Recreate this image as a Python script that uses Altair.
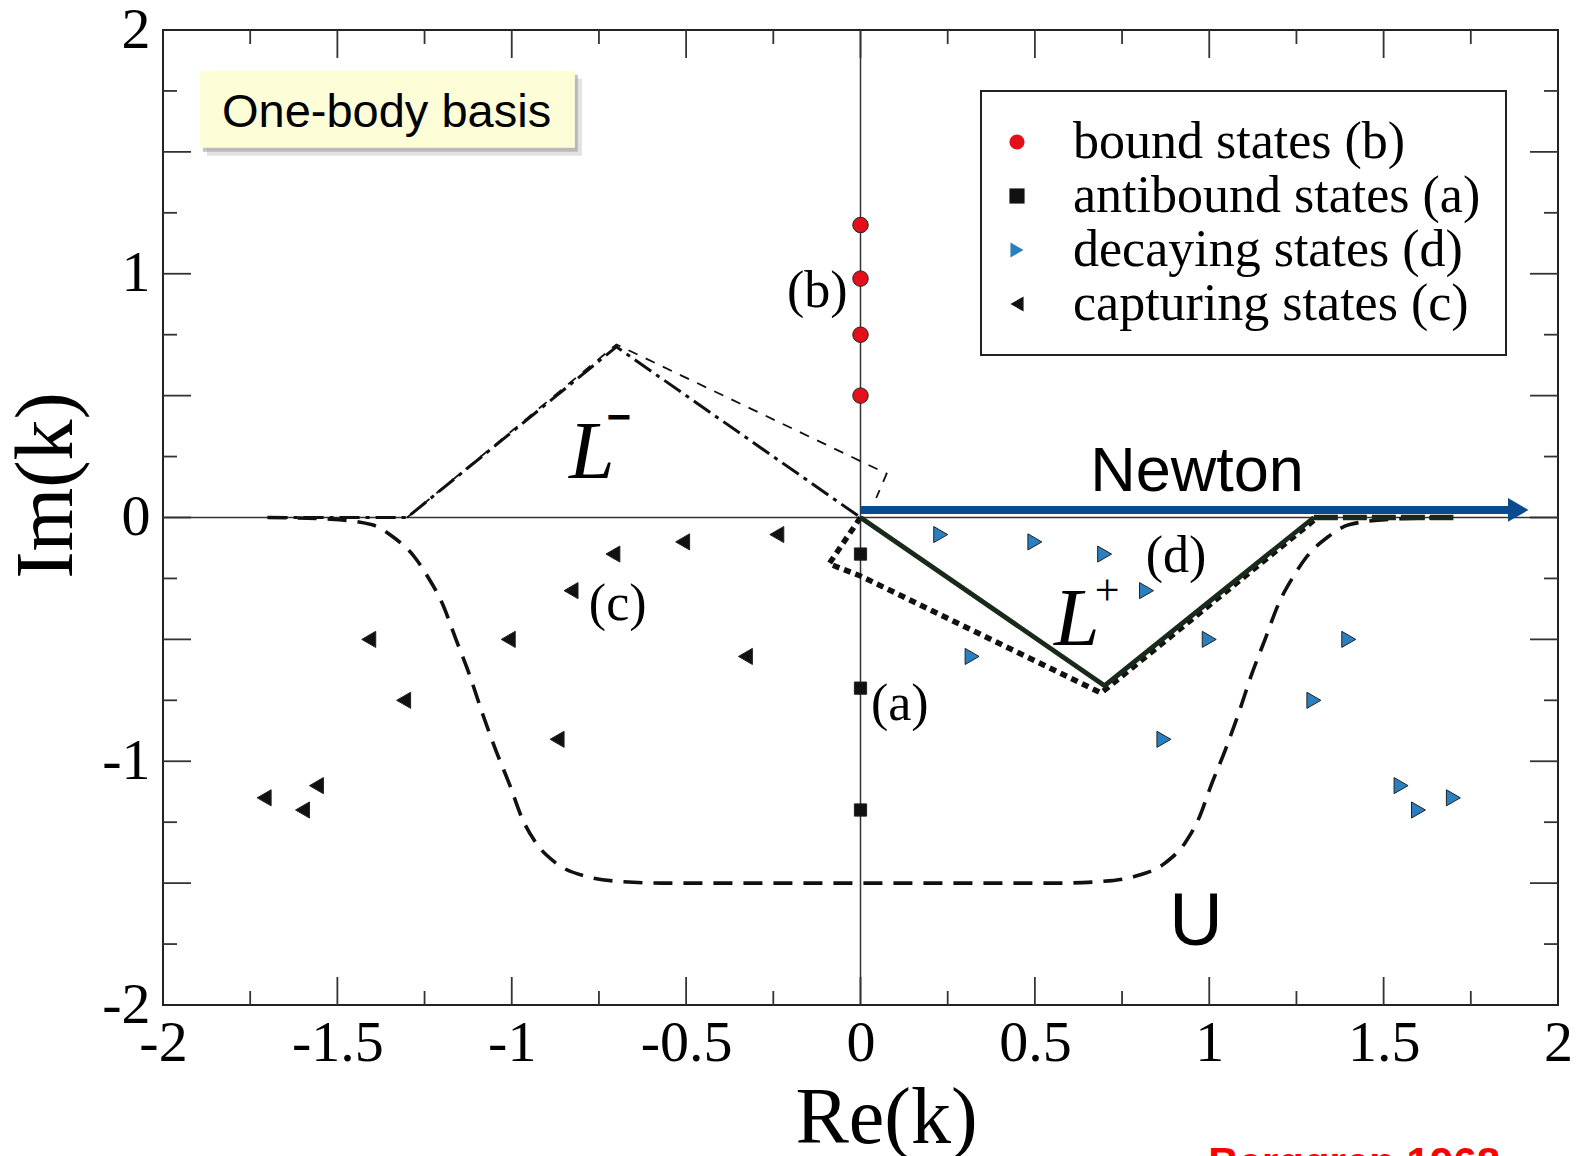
import altair as alt
import pandas as pd

SERIF = "Liberation Serif"
SANS = "Liberation Sans"

# ---------------- data ----------------
bound_x = [0.0, 0.0, 0.0, 0.0]
bound_y = [1.20, 0.98, 0.75, 0.50]
antibound_x = [0.0, 0.0, 0.0]
antibound_y = [-0.15, -0.70, -1.20]
decay_x = [0.23, 0.50, 0.70, 0.82, 0.32, 1.00, 1.40, 0.87, 1.30, 1.55, 1.60, 1.70]
decay_y = [-0.07, -0.10, -0.15, -0.30, -0.57, -0.50, -0.50, -0.91, -0.75, -1.10, -1.20, -1.15]
capture_x = [-0.24, -0.51, -0.71, -0.83, -0.33, -1.01, -1.41, -0.87, -1.31, -1.56, -1.60, -1.71]
capture_y = [-0.07, -0.10, -0.15, -0.30, -0.57, -0.50, -0.50, -0.91, -0.75, -1.10, -1.20, -1.15]

series_names = ["bound states (b)", "antibound states (a)",
                "decaying states (d)", "capturing states (c)"]
series_fill = ["#e3101c", "#111111", "#2a7fc0", "#111111"]
series_shape = ["circle", "square", "triangle-right", "triangle-left"]
series_size = [240, 150, 260, 260]

# contour U (dashed)
U_x = [-1.70, -1.52, -1.40, -1.34, -1.28, -1.24, -1.20, -1.16, -1.12, -1.085, -1.047,
       -1.005, -0.97, -0.93, -0.873, -0.785, -0.683, -0.566, 0.0, 0.566, 0.683, 0.785,
       0.873, 0.93, 0.97, 1.005, 1.047, 1.085, 1.12, 1.16, 1.20, 1.24, 1.28, 1.34, 1.40,
       1.52, 1.70]
U_y = [0.0, -0.007, -0.03, -0.08, -0.16, -0.245, -0.35, -0.50, -0.65, -0.80, -0.95,
       -1.10, -1.235, -1.336, -1.418, -1.473, -1.494, -1.50, -1.50, -1.50, -1.494, -1.473,
       -1.418, -1.336, -1.235, -1.10, -0.95, -0.80, -0.65, -0.50, -0.35, -0.245, -0.16,
       -0.08, -0.03, -0.007, 0.0]
# contour L- (dash-dot)
Lminus_x = [-1.70, -1.30, -0.70, 0.0]
Lminus_y = [0.0, 0.0, 0.70, 0.0]
# thin dashed contour
thin_x = [-1.30, -0.70, 0.075, 0.045]
thin_y = [0.0, 0.71, 0.18, 0.08]
# dotted contour
dotted_x = [0.0, -0.09, 0.0, 0.69, 1.31]
dotted_y = [0.0, -0.19, -0.24, -0.72, 0.0]
# contour L+ (solid) and its tail
Lplus_x = [0.0, 0.70, 1.30]
Lplus_y = [0.0, -0.69, 0.0]
tail_x = [1.30, 1.70]
tail_y = [0.0, 0.0]
# Newton arrow
newton_x = [0.0]
newton_x2 = [1.857]
newton_y = [0.031]
newton_head_x = [1.886]

# ticks
x_label_values = [-2, -1.5, -1, -0.5, 0, 0.5, 1, 1.5, 2]
y_label_values = [-2, -1, 0, 1, 2]
major_ticks = [-1.5, -1, -0.5, 0, 0.5, 1, 1.5]
minor_ticks = [-1.75, -1.25, -0.75, -0.25, 0.25, 0.75, 1.25, 1.75]

# annotations
state_tags = ["(b)", "(c)", "(a)", "(d)"]
state_tag_x = [-0.211, -0.779, 0.030, 0.818]
state_tag_y = [0.864, -0.420, -0.830, -0.222]

W, H = 1395, 975
MAJ, MIN = 28, 14

xs = alt.Scale(domain=[-2, 2], nice=False, zero=False)
ys = alt.Scale(domain=[-2, 2], nice=False, zero=False)

x_axis = alt.Axis(values=x_label_values, ticks=False, domain=False, grid=False,
                  labelFont=SERIF, labelFontSize=58, labelColor="black",
                  labelPadding=9, labelFlush=False, labelOverlap=False,
                  labelExpr="datum.value + ''",
                  title="Re(k)", titleFont=SERIF, titleFontSize=80,
                  titleFontWeight="normal", titleColor="black",
                  titleX=723, titleY=137, titleAlign="center",
                  titleBaseline="alphabetic")
y_axis = alt.Axis(values=y_label_values, ticks=False, domain=False, grid=False,
                  labelFont=SERIF, labelFontSize=58, labelColor="black",
                  labelPadding=13, labelFlush=False, labelOverlap=False,
                  labelBaseline="middle",
                  labelExpr="datum.value + ''",
                  title="Im(k)", titleFont=SERIF, titleFontSize=82,
                  titleFontWeight="normal", titleColor="black",
                  titleX=-92, titleY=455, titleAngle=-90, titleAlign="center",
                  titleBaseline="alphabetic")


def X(f):
    return alt.X(f, type="quantitative", scale=xs, axis=x_axis, title="Re(k)")


def Y(f):
    return alt.Y(f, type="quantitative", scale=ys, axis=y_axis, title="Im(k)")


def path_df(xv, yv):
    return pd.DataFrame({"x": xv, "y": yv, "i": list(range(len(xv)))})


def line_layer(xv, yv, **kw):
    return alt.Chart(path_df(xv, yv)).mark_line(**kw).encode(
        x=X("x"), y=Y("y"), order=alt.Order("i:Q"))


layers = []

# zero lines
layers.append(alt.Chart(pd.DataFrame({"v": [0.0]})).mark_rule(
    color="#333", strokeWidth=1.5).encode(x=X("v")))
layers.append(alt.Chart(pd.DataFrame({"v": [0.0]})).mark_rule(
    color="#333", strokeWidth=1.5).encode(y=Y("v")))

# inner ticks on all four sides
tick_style = dict(color="#333", strokeWidth=1.8)
for vals, ln in ((major_ticks, MAJ), (minor_ticks, MIN)):
    tdf = pd.DataFrame({"v": vals})
    layers.append(alt.Chart(tdf).mark_rule(**tick_style).encode(
        x=X("v"), y=alt.value(H), y2=alt.value(H - ln)))
    layers.append(alt.Chart(tdf).mark_rule(**tick_style).encode(
        x=X("v"), y=alt.value(0), y2=alt.value(ln)))
    layers.append(alt.Chart(tdf).mark_rule(**tick_style).encode(
        y=Y("v"), x=alt.value(0), x2=alt.value(ln)))
    layers.append(alt.Chart(tdf).mark_rule(**tick_style).encode(
        y=Y("v"), x=alt.value(W), x2=alt.value(W - ln)))

# contours
layers.append(line_layer(U_x, U_y, color="#111", strokeWidth=3.6,
                         strokeDash=[19, 11], interpolate="monotone"))
layers.append(line_layer(Lminus_x, Lminus_y, color="#111", strokeWidth=3,
                         strokeDash=[20, 6, 4, 6]))
layers.append(line_layer(thin_x, thin_y, color="#111", strokeWidth=1.8,
                         strokeDash=[10, 9]))
layers.append(line_layer(dotted_x, dotted_y, color="#111", strokeWidth=5.5,
                         strokeDash=[7, 5]))
layers.append(line_layer(Lplus_x, Lplus_y, color="#1a2a1a", strokeWidth=4.8))
layers.append(line_layer(tail_x, tail_y, color="#1a2a1a", strokeWidth=5.5,
                         strokeDash=[24, 5]))

# Newton arrow
arrow_color = "#0a4a8e"
layers.append(alt.Chart(pd.DataFrame({"x": newton_x, "x2": newton_x2, "y": newton_y}))
              .mark_rule(color=arrow_color, strokeWidth=8)
              .encode(x=X("x"), x2=alt.X2("x2"), y=Y("y")))
layers.append(alt.Chart(pd.DataFrame({"x": newton_head_x, "y": newton_y}))
              .mark_point(shape="triangle-right", filled=True, size=560,
                          color=arrow_color, opacity=1)
              .encode(x=X("x"), y=Y("y")))

# states: one layer per series (own marker size), one shared legend
legend = alt.Legend(title=None, orient="none", legendX=818, legendY=61,
                    direction="vertical",
                    labelFont=SERIF, labelFontSize=52, labelColor="black",
                    labelLimit=700, labelOffset=30, symbolOffset=-15,
                    symbolSize=230, symbolStrokeColor="#222", symbolStrokeWidth=1,
                    padding=25, rowPadding=2,
                    strokeColor="#222", fillColor="white", zindex=1)

series_xy = [(bound_x, bound_y), (antibound_x, antibound_y),
             (decay_x, decay_y), (capture_x, capture_y)]
for name, (sx, sy), sz in zip(series_names, series_xy, series_size):
    sdf = pd.DataFrame({"x": sx, "y": sy, "s": name})
    layers.append(alt.Chart(sdf).mark_point(filled=True, opacity=1, stroke="#222",
                                            strokeWidth=1, size=sz).encode(
        x=X("x"), y=Y("y"),
        fill=alt.Fill("s:N", scale=alt.Scale(domain=series_names, range=series_fill),
                      legend=legend),
        shape=alt.Shape("s:N", scale=alt.Scale(domain=series_names, range=series_shape),
                        legend=legend),
    ))

# state tags
layers.append(alt.Chart(pd.DataFrame({"x": state_tag_x, "y": state_tag_y, "t": state_tags}))
              .mark_text(font=SERIF, fontSize=52, align="left", baseline="alphabetic",
                         color="black")
              .encode(x=X("x"), y=Y("y"), text="t:N"))

# L- / L+ labels
layers.append(alt.Chart(pd.DataFrame({"x": [-0.836, 0.555], "y": [0.1625, -0.523],
                                      "t": ["L", "L"]}))
              .mark_text(font=SERIF, fontSize=82, fontStyle="italic", align="left",
                         baseline="alphabetic", color="black")
              .encode(x=X("x"), y=Y("y"), text="t:N"))
layers.append(alt.Chart(pd.DataFrame({"x": [-0.693], "y": [0.408], "t": ["\u2212"]}))
              .mark_text(font=SANS, fontSize=42, fontWeight="bold", align="center",
                         baseline="middle", color="black")
              .encode(x=X("x"), y=Y("y"), text="t:N"))
layers.append(alt.Chart(pd.DataFrame({"x": [0.707], "y": [-0.306], "t": ["+"]}))
              .mark_text(font=SERIF, fontSize=44, align="center",
                         baseline="middle", color="black")
              .encode(x=X("x"), y=Y("y"), text="t:N"))

# Newton / U
layers.append(alt.Chart(pd.DataFrame({"x": [0.965], "y": [0.110], "t": ["Newton"]}))
              .mark_text(font=SANS, fontSize=63, align="center", baseline="alphabetic",
                         color="black")
              .encode(x=X("x"), y=Y("y"), text="t:N"))
layers.append(alt.Chart(pd.DataFrame({"x": [0.962], "y": [-1.754], "t": ["U"]}))
              .mark_text(font=SANS, fontSize=74, align="center", baseline="alphabetic",
                         color="black")
              .encode(x=X("x"), y=Y("y"), text="t:N"))

# "One-body basis" box with shadow
box = pd.DataFrame({"x": [-1.894], "x2": [-0.819], "y": [1.833], "y2": [1.517]})
layers.append(alt.Chart(box).mark_rect(fill="#cfcfcf", opacity=0.6,
                                       xOffset=7, x2Offset=7, yOffset=8, y2Offset=8)
              .encode(x=X("x"), x2=alt.X2("x2"), y=Y("y"), y2=alt.Y2("y2")))
layers.append(alt.Chart(box).mark_rect(fill="#a8a8a8", opacity=0.7,
                                       xOffset=3, x2Offset=3, yOffset=4, y2Offset=4)
              .encode(x=X("x"), x2=alt.X2("x2"), y=Y("y"), y2=alt.Y2("y2")))
layers.append(alt.Chart(box).mark_rect(fill="#fdfed8")
              .encode(x=X("x"), x2=alt.X2("x2"), y=Y("y"), y2=alt.Y2("y2")))
layers.append(alt.Chart(pd.DataFrame({"x": [-1.359], "y": [1.603], "t": ["One-body basis"]}))
              .mark_text(font=SANS, fontSize=47, align="center", baseline="alphabetic",
                         color="black")
              .encode(x=X("x"), y=Y("y"), text="t:N"))

# red source note (cut off at the bottom edge)
layers.append(alt.Chart(pd.DataFrame({"x": [0.997], "y": [-2.706], "t": ["Berggren 1968"]}))
              .mark_text(font=SANS, fontSize=42, fontWeight="bold", align="left",
                         baseline="alphabetic", color="#ff0000")
              .encode(x=X("x"), y=Y("y"), text="t:N"))

chart = alt.layer(*layers).properties(
    width=W, height=H,
    autosize=alt.AutoSizeParams(type="none"),
    padding={"left": 163, "top": 30, "right": 21, "bottom": 151},
    background="white",
).configure_view(stroke="#222", strokeWidth=2).configure_legend(strokeWidth=2)

chart.save("out.html", embed_options={"renderer": "svg", "actions": False})
